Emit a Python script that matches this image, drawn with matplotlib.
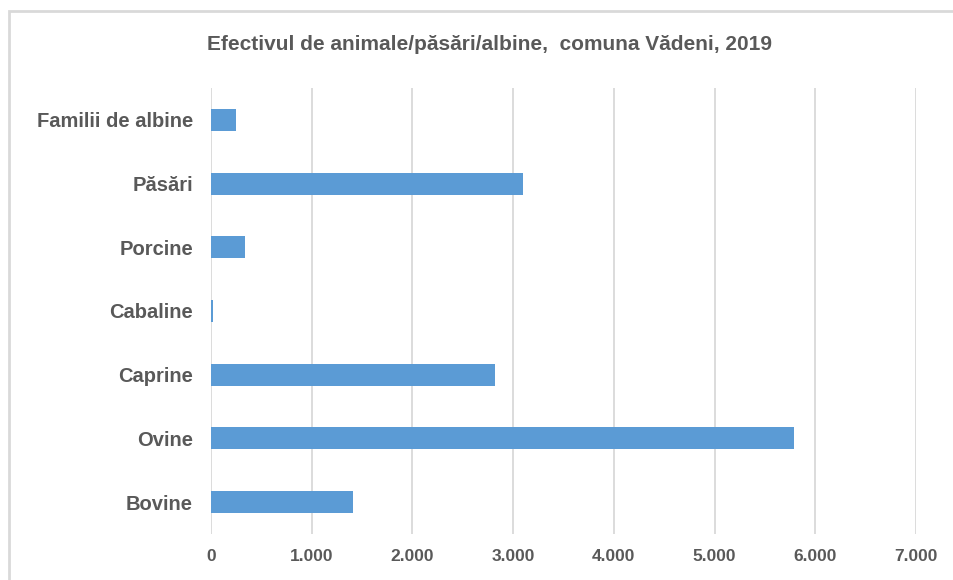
import matplotlib
matplotlib.use("Agg")
from matplotlib import pyplot as plt
from matplotlib.patches import Rectangle
from matplotlib.ticker import FuncFormatter

plt.rcParams['font.family'] = ['Liberation Sans', 'DejaVu Sans']

# data
categories = ['Bovine', 'Ovine', 'Caprine', 'Cabaline', 'Porcine', 'Păsări', 'Familii de albine']
values = [1410, 5790, 2820, 20, 340, 3100, 250]
x_ticks = [0, 1000, 2000, 3000, 4000, 5000, 6000, 7000]

title = 'Efectivul de animale/păsări/albine,  comuna Vădeni, 2019'
text_color = '#595959'
bar_color = '#5b9bd5'
grid_color = '#d9d9d9'

fig = plt.figure(figsize=(9.54, 5.80), dpi=100)
ax = fig.add_axes([0.2212, 0.0793, 0.739, 0.769])

# chart frame like the excel box
fig.patches.append(Rectangle((9 / 954, -0.05), 1.0, 1 - 11 / 580 + 0.05,
                             transform=fig.transFigure, fill=False,
                             edgecolor=grid_color, linewidth=2, zorder=0))

ax.barh(range(len(categories)), values, height=0.345, color=bar_color, zorder=3)

ax.set_xlim(0, 7000)
ax.set_ylim(-0.5, len(categories) - 0.5)
ax.set_xticks(x_ticks)
ax.xaxis.set_major_formatter(FuncFormatter(lambda v, p: f'{int(v):,}'.replace(',', '.')))
ax.set_yticks(range(len(categories)))
ax.set_yticklabels(categories)

ax.grid(axis='x', color=grid_color, linewidth=1.3, zorder=0)
for s in ax.spines.values():
    s.set_visible(False)
ax.tick_params(axis='both', length=0, colors=text_color)
ax.tick_params(axis='x', pad=11, labelsize=12.5)
ax.tick_params(axis='y', pad=13, labelsize=14.5)
for lbl in ax.get_xticklabels() + ax.get_yticklabels():
    lbl.set_fontweight('bold')

fig.text(490 / 954, 1 - 45 / 580, title, ha='center', va='center',
         fontsize=15, fontweight='bold', color=text_color)

fig.savefig('out.png', dpi=100)
